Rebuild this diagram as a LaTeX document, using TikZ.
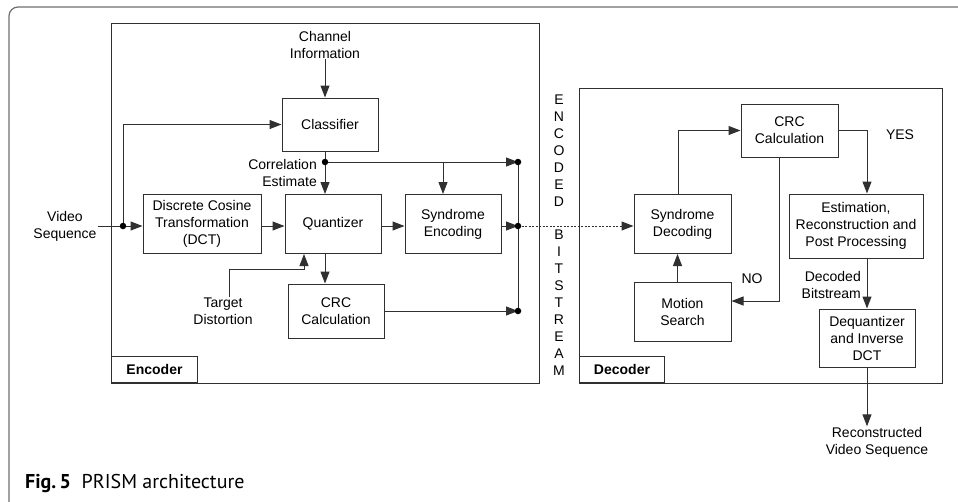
\documentclass[tikz,border=0pt]{standalone}
\usepackage{fontspec}
\setmainfont{Liberation Sans}
\newfontfamily\capfont{PT Sans}
\usepackage{tikz}
\usetikzlibrary{shapes,arrows,arrows.meta,positioning}
\definecolor{linegray}{HTML}{303030}
\definecolor{framegray}{HTML}{6E6E6E}
\tikzstyle{block} = [draw=linegray, line width=1pt, minimum width=96pt, minimum height=59pt, align=center, inner sep=2pt]
\tikzstyle{txt} = [align=center, inner sep=1pt]
\tikzstyle{tab} = [draw=linegray, line width=1pt, minimum width=86pt, minimum height=26pt, font=\fontsize{14}{17}\selectfont\bfseries, anchor=south west]
\tikzstyle{arrow} = [line width=1pt, draw=linegray, -{Triangle[length=12pt,width=9pt]}]
\tikzstyle{line} = [line width=1pt, draw=linegray]
\tikzstyle{junction} = [circle, fill=black, inner sep=0pt, minimum size=6.5pt]

\begin{document}
\begin{tikzpicture}[x=1pt, y=-1pt, font=\fontsize{14}{17}\selectfont]
  \useasboundingbox (0,0) rectangle (958,501);
  % outer frame
  \draw[framegray, line width=1.2pt, rounded corners=9pt] (960,7) -- (9,7) -- (9,512) -- (40,512);

  % encoder and decoder frames
  \draw[line] (111,23) rectangle (539,383);
  \node[tab] (enctab) at (111,383) {Encoder};
  \draw[line] (579,88) rectangle (942,383);
  \node[tab, minimum width=85pt] (dectab) at (579,383) {Decoder};

  % encoder blocks
  \node[block, minimum height=53pt] (classifier) at (330,124.5) {Classifier};
  \node[block, minimum width=118pt] (dct) at (202,224) {Discrete Cosine\\Transformation\\(DCT)};
  \node[block] (quant) at (333,224) {Quantizer};
  \node[block] (synenc) at (453,224) {Syndrome\\Encoding};
  \node[block, minimum height=54pt] (crcenc) at (336,311) {CRC\\Calculation};

  % decoder blocks
  \node[block, minimum width=97pt] (syndec) at (682.5,224) {Syndrome\\Decoding};
  \node[block, minimum width=97pt, minimum height=53pt] (crcdec) at (789.5,130.5) {CRC\\Calculation};
  \node[block, minimum width=134pt, minimum height=64pt] (est) at (856,226) {Estimation,\\Reconstruction and\\Post Processing};
  \node[block, minimum width=97pt] (motion) at (682.5,311.5) {Motion\\Search};
  \node[block, minimum height=58pt] (dequant) at (867,338) {Dequantizer\\and Inverse\\DCT};

  % texts
  \node[txt] (chaninfo) at (325,44.5) {Channel\\Information};
  \node[txt] (video) at (65,226) {Video\\Sequence};
  \node[txt, align=right, anchor=east] (corrlbl) at (318,172.5) {Correlation\\Estimate};
  \node[txt] (target) at (223,311.5) {Target\\Distortion};
  \node[txt, align=right, anchor=east] (declbl) at (862,284.5) {Decoded\\Bitstream};
  \node[txt] (recon) at (877,442.5) {Reconstructed\\Video Sequence};
  \node[txt] (yes) at (900,135) {YES};
  \node[txt] (no) at (752,279) {NO};
  \node[txt, inner sep=0pt] (encoded) at (559,151) {E\\N\\C\\O\\D\\E\\D};
  \node[txt, inner sep=0pt] (bitstream) at (559,303) {B\\I\\T\\S\\T\\R\\E\\A\\M};

  % junctions
  \coordinate (corr) at (325,162);
  \coordinate (split) at (123,226);
  \coordinate (brc) at (443,162);
  \coordinate (busT) at (518,162);
  \coordinate (busM) at (518,226);
  \coordinate (busB) at (518,311);
  \coordinate (tgt) at (304,269);
  \coordinate (nobr) at (779,301);

  % encoder connections
  \draw[arrow] (chaninfo) -- (classifier.north -| chaninfo);
  \draw[line] (video) -- (split);
  \draw[arrow] (split) -- (dct.west |- split);
  \draw[arrow] (split) |- (classifier.west);
  \draw[arrow] (dct.east |- split) -- (quant.west |- split);
  \draw[arrow] (quant.east |- split) -- (synenc.west |- split);
  \draw[line] (classifier.south -| corr) -- (corr);
  \draw[arrow] (corr) -- (quant.north -| corr);
  \draw[arrow] (corr) -- (busT);
  \draw[arrow] (brc) -- (synenc.north -| brc);
  \draw[arrow] (synenc.east |- busM) -- (busM);
  \draw[arrow] (quant.south -| corr) -- (crcenc.north -| corr);
  \draw[arrow] (crcenc.east) -- (busB);
  \draw[arrow] ([xshift=6pt]target.north) |- (tgt) -- (quant.south -| tgt);
  \draw[line] (busT) -- (busB);
  \draw[arrow, dash pattern=on 2pt off 1.5pt] (busM) -- (syndec.west |- busM);

  % decoder connections
  \draw[arrow] ([xshift=-4pt]syndec.north) |- (crcdec.west);
  \draw[arrow] (crcdec.east) -| (est.north -| dequant);
  \draw[arrow] (crcdec.south -| nobr) -- (nobr) -- (nobr -| motion.east);
  \draw[arrow] ([xshift=-5pt]motion.north) -- ([xshift=-5pt]syndec.south);
  \draw[arrow] (est.south -| dequant) -- (dequant.north);
  \draw[arrow] (dequant.south) -- (dequant.south |- recon.north);

  \foreach \p in {corr,split,busT,busM,busB}
    \node[junction] at (\p) {};

  % caption
  \node[anchor=base west, inner sep=0pt, font=\capfont\fontsize{20}{24}\selectfont] (caption) at (25,488) {\textbf{Fig.\,5}\ \ PRISM architecture};
\end{tikzpicture}
\end{document}
